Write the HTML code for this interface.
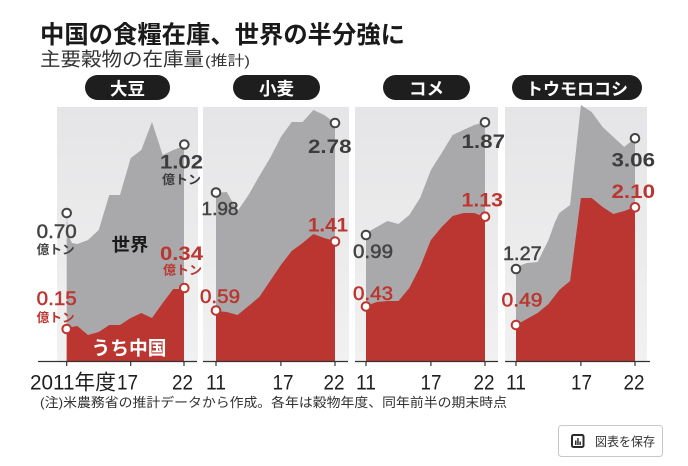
<!DOCTYPE html>
<html><head><meta charset="utf-8">
<style>
html,body{margin:0;padding:0;background:#fff;}
svg{display:block;}
.jp{font-family:"Liberation Sans","Noto Sans CJK JP",sans-serif;}
</style></head>
<body>
<svg width="688" height="466" viewBox="0 0 688 466" xmlns="http://www.w3.org/2000/svg" class="jp">
<defs>
<linearGradient id="bg" x1="0" y1="0" x2="0" y2="1">
<stop offset="0" stop-color="#e5e5e7"/>
<stop offset="1" stop-color="#f1f1f1"/>
</linearGradient>
</defs>
<rect width="688" height="466" fill="#fff"/>

<!-- Title -->
<text x="40" y="43" font-size="24.5" font-weight="bold" fill="#1a1a1a" textLength="365" lengthAdjust="spacingAndGlyphs">中国の食糧在庫、世界の半分強に</text>
<text x="40" y="65.5" font-size="19" fill="#333" textLength="164" lengthAdjust="spacingAndGlyphs">主要穀物の在庫量</text>
<text x="205" y="65.5" font-size="14" fill="#333" textLength="45" lengthAdjust="spacingAndGlyphs">(推計)</text>

<!-- Pills -->
<rect x="85" y="75" width="85" height="25" rx="12.5" fill="#1e1e1e"/>
<text x="127.5" y="95" font-size="17.5" font-weight="bold" fill="#fff" text-anchor="middle">大豆</text>
<rect x="233" y="75" width="87" height="25" rx="12.5" fill="#1e1e1e"/>
<text x="276.5" y="95" font-size="17.5" font-weight="bold" fill="#fff" text-anchor="middle">小麦</text>
<rect x="383" y="75" width="87" height="25" rx="12.5" fill="#1e1e1e"/>
<text x="426.5" y="95" font-size="17.5" font-weight="bold" fill="#fff" text-anchor="middle">コメ</text>
<rect x="512" y="75" width="130" height="25" rx="12.5" fill="#1e1e1e"/>
<text x="577" y="95" font-size="17" font-weight="bold" fill="#fff" text-anchor="middle" textLength="102" lengthAdjust="spacingAndGlyphs">トウモロコシ</text>

<!-- Panel backgrounds -->
<rect x="57" y="107" width="141" height="254" fill="url(#bg)"/>
<rect x="203" y="107" width="146" height="254" fill="url(#bg)"/>
<rect x="355" y="107" width="143" height="254" fill="url(#bg)"/>
<rect x="505" y="107" width="142" height="254" fill="url(#bg)"/>

<!-- Panel 1 soybean -->
<polygon fill="#a9a9ab" points="66.7,361 66.7,214 68.5,236 72,243 77.3,244 88,240 98.7,230 109.3,195 120,195 130.7,158 141.3,150 152,122 162.7,155 173.3,150 184,146 184,361"/>
<polygon fill="#bb3630" points="66.7,361 66.7,328 77.3,326 88,335 98.7,332 109.3,325 120,325 130.7,318 141.3,313 152,318 162.7,303 173.3,289 184,289 184,361"/>

<!-- Panel 2 wheat -->
<polygon fill="#a9a9ab" points="216,361 216,193 226.8,192 237.6,211 248.5,195 259.3,176 270.1,158 280.9,137 291.7,122 302.6,122 313.4,110 324.2,115 335,123 335,361"/>
<polygon fill="#bb3630" points="216,361 216,311 226.8,312 237.6,315 248.5,306 259.3,297 270.1,281 280.9,265 291.7,251 302.6,243 313.4,234 324.2,238 335,241 335,361"/>

<!-- Panel 3 rice -->
<polygon fill="#a9a9ab" points="366,361 366,233 376.8,227 387.6,221 398.5,224 409.3,215 420.1,198 430.9,170 441.7,153 452.6,135 463.4,130 474.2,125 485,122 485,361"/>
<polygon fill="#bb3630" points="366,361 366,306 376.8,302 387.6,301 398.5,301 409.3,288 420.1,267 430.9,240 441.7,227 452.6,216 463.4,213 474.2,213 485,217 485,361"/>

<!-- Panel 4 corn -->
<polygon fill="#a9a9ab" points="516,361 516,267 526.8,263 537.6,262 548.5,240 555,222 559.3,213 570.1,205 580.9,105 591.7,112 602.6,127 613.4,137 624.2,147 635,138 635,361"/>
<polygon fill="#bb3630" points="516,361 516,325 526.8,319 537.6,313 548.5,304 559.3,290 570.1,281 580.9,198 591.7,198 602.6,207 613.4,214 624.2,211 635,207 635,361"/>

<!-- Axis lines -->
<g stroke="#333" stroke-width="1.2">
<line x1="38" y1="361.5" x2="197" y2="361.5"/>
<line x1="203" y1="361.5" x2="348" y2="361.5"/>
<line x1="355" y1="361.5" x2="498" y2="361.5"/>
<line x1="505" y1="361.5" x2="650" y2="361.5"/>
<line x1="66.7" y1="361" x2="66.7" y2="366"/>
<line x1="130.7" y1="361" x2="130.7" y2="366"/>
<line x1="184" y1="361" x2="184" y2="366"/>
<line x1="216" y1="361" x2="216" y2="366"/>
<line x1="280.9" y1="361" x2="280.9" y2="366"/>
<line x1="335" y1="361" x2="335" y2="366"/>
<line x1="366" y1="361" x2="366" y2="366"/>
<line x1="430.9" y1="361" x2="430.9" y2="366"/>
<line x1="485" y1="361" x2="485" y2="366"/>
<line x1="516" y1="361" x2="516" y2="366"/>
<line x1="580.9" y1="361" x2="580.9" y2="366"/>
<line x1="635" y1="361" x2="635" y2="366"/>
</g>

<!-- Axis labels -->
<g font-size="21" fill="#1e1e1e">
<text x="30" y="389.5" textLength="86" lengthAdjust="spacingAndGlyphs">2011年度</text>
<text x="127.5" y="389.5" text-anchor="middle" textLength="21" lengthAdjust="spacingAndGlyphs">17</text>
<text x="182.5" y="389.5" text-anchor="middle" textLength="21" lengthAdjust="spacingAndGlyphs">22</text>
<text x="216" y="389.5" text-anchor="middle" textLength="20" lengthAdjust="spacingAndGlyphs">11</text>
<text x="283" y="389.5" text-anchor="middle" textLength="21" lengthAdjust="spacingAndGlyphs">17</text>
<text x="334" y="389.5" text-anchor="middle" textLength="21" lengthAdjust="spacingAndGlyphs">22</text>
<text x="366" y="389.5" text-anchor="middle" textLength="20" lengthAdjust="spacingAndGlyphs">11</text>
<text x="431" y="389.5" text-anchor="middle" textLength="21" lengthAdjust="spacingAndGlyphs">17</text>
<text x="484" y="389.5" text-anchor="middle" textLength="21" lengthAdjust="spacingAndGlyphs">22</text>
<text x="516" y="389.5" text-anchor="middle" textLength="20" lengthAdjust="spacingAndGlyphs">11</text>
<text x="581.5" y="389.5" text-anchor="middle" textLength="21" lengthAdjust="spacingAndGlyphs">17</text>
<text x="634" y="389.5" text-anchor="middle" textLength="21" lengthAdjust="spacingAndGlyphs">22</text>
</g>

<!-- Circles -->
<g fill="#fff" stroke-width="2">
<circle cx="66.7" cy="213" r="4.3" stroke="#444"/>
<circle cx="184.3" cy="144.5" r="4.3" stroke="#444"/>
<circle cx="66.7" cy="329" r="4.3" stroke="#bb3630"/>
<circle cx="184.3" cy="288" r="4.3" stroke="#bb3630"/>
<circle cx="216" cy="192.5" r="4.3" stroke="#444"/>
<circle cx="335" cy="123" r="4.3" stroke="#444"/>
<circle cx="216" cy="310.5" r="4.3" stroke="#bb3630"/>
<circle cx="335" cy="241.5" r="4.3" stroke="#bb3630"/>
<circle cx="366" cy="235" r="4.3" stroke="#444"/>
<circle cx="485" cy="122.3" r="4.3" stroke="#444"/>
<circle cx="366" cy="306.5" r="4.3" stroke="#bb3630"/>
<circle cx="485" cy="216.7" r="4.3" stroke="#bb3630"/>
<circle cx="516" cy="269" r="4.3" stroke="#444"/>
<circle cx="635" cy="138.3" r="4.3" stroke="#444"/>
<circle cx="516" cy="325" r="4.3" stroke="#bb3630"/>
<circle cx="635" cy="207.3" r="4.3" stroke="#bb3630"/>
</g>

<!-- Value labels: panel 1 -->
<text x="36.7" y="238" font-size="19" fill="#444" stroke="#444" stroke-width="0.5" textLength="40" lengthAdjust="spacingAndGlyphs">0.70</text>
<text x="36.7" y="254" font-size="12.5" font-weight="bold" fill="#444" textLength="38" lengthAdjust="spacingAndGlyphs">億トン</text>
<text x="36.7" y="305" font-size="19" fill="#bb3630" stroke="#bb3630" stroke-width="0.5" textLength="40" lengthAdjust="spacingAndGlyphs">0.15</text>
<text x="36.7" y="322" font-size="12.5" font-weight="bold" fill="#bb3630" textLength="38" lengthAdjust="spacingAndGlyphs">億トン</text>
<text x="160" y="168.5" font-size="19" font-weight="bold" fill="#3c3c3c" textLength="43" lengthAdjust="spacingAndGlyphs">1.02</text>
<text x="162" y="184" font-size="12.5" font-weight="bold" fill="#3c3c3c" textLength="39" lengthAdjust="spacingAndGlyphs">億トン</text>
<text x="160" y="260" font-size="19" font-weight="bold" fill="#bb3630" textLength="43" lengthAdjust="spacingAndGlyphs">0.34</text>
<text x="163" y="274.5" font-size="12.5" font-weight="bold" fill="#bb3630" textLength="39" lengthAdjust="spacingAndGlyphs">億トン</text>
<text x="111.5" y="251" font-size="18" font-weight="bold" fill="#1a1a1a" textLength="37" lengthAdjust="spacingAndGlyphs">世界</text>
<text x="91.5" y="354.5" font-size="19" font-weight="bold" fill="#fff" textLength="75" lengthAdjust="spacingAndGlyphs">うち中国</text>

<!-- Panel 2 -->
<text x="201.5" y="215" font-size="18.5" fill="#444" stroke="#444" stroke-width="0.5" textLength="37" lengthAdjust="spacingAndGlyphs">1.98</text>
<text x="308" y="153" font-size="19.5" font-weight="bold" fill="#3c3c3c" textLength="43.5" lengthAdjust="spacingAndGlyphs">2.78</text>
<text x="308" y="231.5" font-size="19.5" font-weight="bold" fill="#bb3630" textLength="40" lengthAdjust="spacingAndGlyphs">1.41</text>
<text x="200" y="303" font-size="19" fill="#bb3630" stroke="#bb3630" stroke-width="0.5" textLength="40" lengthAdjust="spacingAndGlyphs">0.59</text>

<!-- Panel 3 -->
<text x="353" y="258" font-size="19" fill="#444" stroke="#444" stroke-width="0.5" textLength="40" lengthAdjust="spacingAndGlyphs">0.99</text>
<text x="461.5" y="148" font-size="19.5" font-weight="bold" fill="#3c3c3c" textLength="43.5" lengthAdjust="spacingAndGlyphs">1.87</text>
<text x="461.5" y="206.5" font-size="19.5" font-weight="bold" fill="#bb3630" textLength="41.5" lengthAdjust="spacingAndGlyphs">1.13</text>
<text x="353" y="300" font-size="19" fill="#bb3630" stroke="#bb3630" stroke-width="0.5" textLength="40" lengthAdjust="spacingAndGlyphs">0.43</text>

<!-- Panel 4 -->
<text x="503" y="260" font-size="19" fill="#444" stroke="#444" stroke-width="0.5" textLength="38.7" lengthAdjust="spacingAndGlyphs">1.27</text>
<text x="611.5" y="166.5" font-size="19.5" font-weight="bold" fill="#3c3c3c" textLength="43.5" lengthAdjust="spacingAndGlyphs">3.06</text>
<text x="611.5" y="198" font-size="19.5" font-weight="bold" fill="#bb3630" textLength="43.5" lengthAdjust="spacingAndGlyphs">2.10</text>
<text x="501.5" y="306.5" font-size="19" fill="#bb3630" stroke="#bb3630" stroke-width="0.5" textLength="41" lengthAdjust="spacingAndGlyphs">0.49</text>

<!-- Footnote -->
<text x="40" y="407" font-size="13.3" fill="#333" textLength="467" lengthAdjust="spacingAndGlyphs">(注)米農務省の推計データから作成。各年は穀物年度、同年前半の期末時点</text>

<!-- Save button -->
<rect x="558.5" y="425.5" width="104" height="31" rx="3" fill="#fff" stroke="#c8c8c8"/>
<rect x="572" y="435" width="11.5" height="12" rx="1.5" fill="none" stroke="#2a2a2a" stroke-width="2"/>
<rect x="575" y="440.5" width="1.5" height="4.5" fill="#2a2a2a"/>
<rect x="577.2" y="438" width="1.5" height="7" fill="#2a2a2a"/>
<rect x="579.4" y="441.5" width="1.5" height="3.5" fill="#2a2a2a"/>
<text x="595" y="446" font-size="12.5" fill="#333" textLength="60" lengthAdjust="spacingAndGlyphs">図表を保存</text>
</svg>
</body></html>
